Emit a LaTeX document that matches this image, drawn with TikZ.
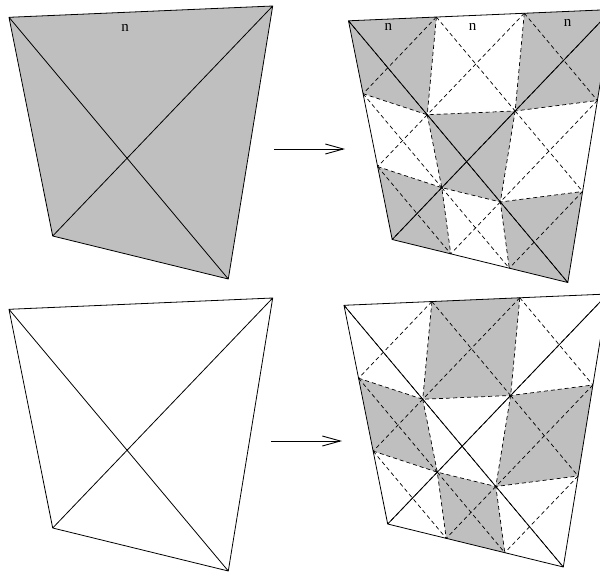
\documentclass[tikz,border=0pt]{standalone}
\usepackage{fontspec}
\setmainfont{Liberation Serif}
\usetikzlibrary{calc,arrows.meta}
\definecolor{cellgray}{gray}{0.75}
\tikzset{
  solidline/.style={line width=0.8pt, line join=round},
  dashline/.style={line width=0.7pt, dash pattern=on 4pt off 3pt},
  cellfill/.style={fill=cellgray},
  lbl/.style={font=\fontsize{15}{15}\selectfont, inner sep=0pt},
  arr/.style={line width=0.9pt, -{Straight Barb[length=18pt,width=10pt]}}
}
% grid points of one quadrilateral, prefix #1, shift (#2,#3)
\newcommand\defquad[3]{%
  \coordinate (#100) at (9+#2,17.3+#3);
  \coordinate (#103) at (272.7+#2,6+#3);
  \coordinate (#133) at (228.3+#2,279+#3);
  \coordinate (#130) at (52.7+#2,236+#3);
  \coordinate (#1m) at (intersection of #100--#133 and #103--#130);
  \coordinate (#101) at ($(#100)!1/3!(#103)$);
  \coordinate (#102) at ($(#100)!2/3!(#103)$);
  \coordinate (#110) at ($(#100)!1/3!(#130)$);
  \coordinate (#120) at ($(#100)!2/3!(#130)$);
  \coordinate (#113) at ($(#103)!1/3!(#133)$);
  \coordinate (#123) at ($(#103)!2/3!(#133)$);
  \coordinate (#131) at ($(#130)!1/3!(#133)$);
  \coordinate (#132) at ($(#130)!2/3!(#133)$);
  \coordinate (#111) at ($(#1m)!1/3!(#100)$);
  \coordinate (#112) at ($(#1m)!1/3!(#103)$);
  \coordinate (#122) at ($(#1m)!1/3!(#133)$);
  \coordinate (#121) at ($(#1m)!1/3!(#130)$);
}
\newcommand\graycell[3]{%
  \pgfmathtruncatemacro\rr{#2+1}\pgfmathtruncatemacro\cc{#3+1}%
  \fill[cellfill] (#1#2#3) -- (#1#2\cc) -- (#1\rr\cc) -- (#1\rr#3) -- cycle;
}
\newcommand\subdiv[1]{%
  \foreach \r in {0,1,2}{\foreach \c in {0,1,2}{%
    \pgfmathtruncatemacro\rr{\r+1}\pgfmathtruncatemacro\cc{\c+1}%
    \draw[dashline] (#1\r\c) -- (#1\rr\cc) (#1\r\cc) -- (#1\rr\c);}}
  \foreach \k in {1,2}{%
    \draw[dashline] (#1\k0) -- (#1\k1) -- (#1\k2) -- (#1\k3)
                    (#10\k) -- (#11\k) -- (#12\k) -- (#13\k);}
}
\newcommand\outline[1]{%
  \draw[solidline] (#100) -- (#103) -- (#133) -- (#130) -- cycle
                   (#100) -- (#133) (#103) -- (#130);
}
\begin{document}
\begin{tikzpicture}[x=1pt,y=-1pt]
  \useasboundingbox (0,0) rectangle (600,574);
  \clip (0,0) rectangle (600,574);
  \defquad{P}{0}{0}
  \defquad{Q}{339.5}{3.5}
  \defquad{R}{0}{292}
  \defquad{S}{335}{288}
  % top left: shaded
  \fill[cellfill] (P00) -- (P03) -- (P33) -- (P30) -- cycle;
  \outline{P}
  \node[lbl] (nP) at (125,27.7) {n};
  % top right: subdivided, corner cells shaded
  \graycell{Q}{0}{0}\graycell{Q}{0}{2}\graycell{Q}{1}{1}\graycell{Q}{2}{0}\graycell{Q}{2}{2}
  \subdiv{Q}
  \outline{Q}
  \node[lbl] (nQ1) at (388.3,26.7) {n};
  \node[lbl] (nQ2) at (472.7,26.7) {n};
  \node[lbl] (nQ3) at (567.7,22.7) {n};
  % bottom left: plain
  \outline{R}
  % bottom right: subdivided, edge cells shaded
  \graycell{S}{0}{1}\graycell{S}{1}{0}\graycell{S}{1}{2}\graycell{S}{2}{1}
  \subdiv{S}
  \outline{S}
  % arrows
  \coordinate (a1s) at (274,149);
  \coordinate (a1e) at (345,149);
  \coordinate (a2s) at (271,441);
  \coordinate (a2e) at (342,441);
  \draw[arr] (a1s) -- (a1e);
  \draw[arr] (a2s) -- (a2e);
\end{tikzpicture}
\end{document}
